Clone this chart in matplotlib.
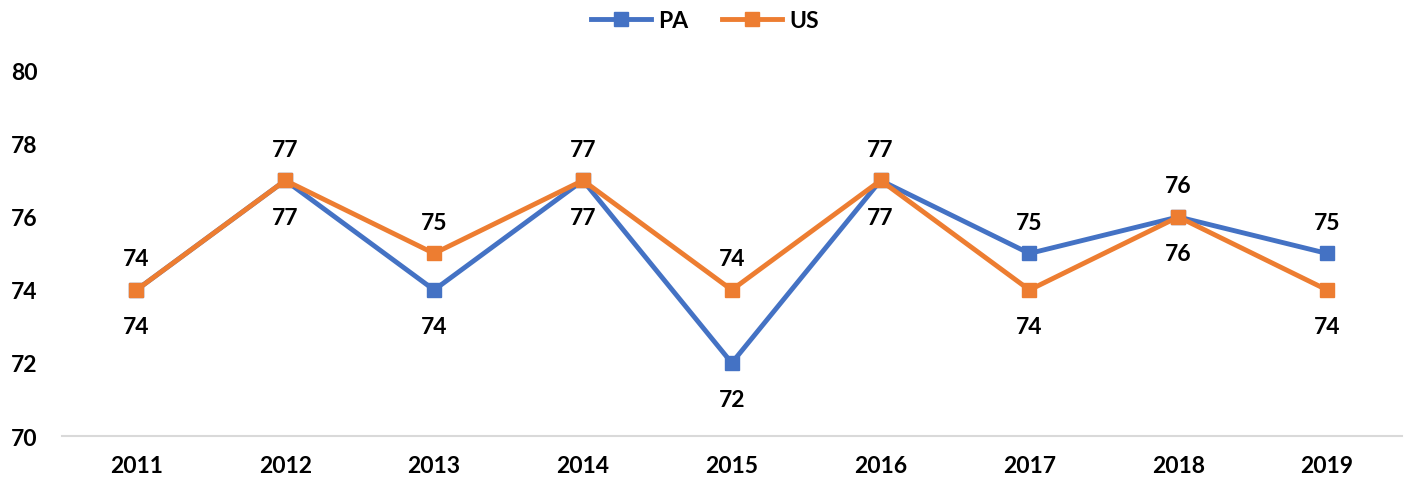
import matplotlib
matplotlib.use("Agg")
import matplotlib.pyplot as plt

years = ["2011", "2012", "2013", "2014", "2015", "2016", "2017", "2018", "2019"]
pa = [74, 77, 74, 77, 72, 77, 75, 76, 75]
us = [74, 77, 75, 77, 74, 77, 74, 76, 74]
y_ticks = [70, 72, 74, 76, 78, 80]

BLUE = "#4472C4"
ORANGE = "#ED7D31"

plt.rcParams["font.family"] = ["Lato", "DejaVu Sans"]
plt.rcParams["font.weight"] = "bold"
FS = 16.5

fig = plt.figure(figsize=(14.1, 4.89), dpi=100)
ax = fig.add_axes([0.044, 0.1063, 0.950, 0.7467])

x = list(range(len(years)))
ax.plot(x, pa, color=BLUE, lw=3.5, marker="s", ms=10, label="PA",
        solid_joinstyle="round", zorder=3)
ax.plot(x, us, color=ORANGE, lw=3.5, marker="s", ms=10, label="US",
        solid_joinstyle="round", zorder=4)

# higher value labelled above, lower below; ties put US on top
up, down = 15, -19
for i in x:
    pa_up = pa[i] > us[i]
    ax.annotate(str(pa[i]), (i, pa[i]), xytext=(0, up if pa_up else down),
                textcoords="offset points", ha="center",
                va="bottom" if pa_up else "top", fontsize=FS, fontweight="bold")
    ax.annotate(str(us[i]), (i, us[i]), xytext=(0, down if pa_up else up),
                textcoords="offset points", ha="center",
                va="top" if pa_up else "bottom", fontsize=FS, fontweight="bold")

ax.set_xlim(-0.5, len(years) - 0.5)
ax.set_ylim(70, 80)
ax.set_xticks(x)
ax.set_xticklabels(years, fontsize=FS, fontweight="bold")
ax.set_yticks(y_ticks)
ax.set_yticklabels([str(v) for v in y_ticks], fontsize=FS, fontweight="bold",
                   ha="left")
ax.tick_params(axis="y", length=0, pad=37)
ax.tick_params(axis="x", length=0, pad=14)
for side in ["top", "right", "left"]:
    ax.spines[side].set_visible(False)
ax.spines["bottom"].set_color("#D9D9D9")
ax.spines["bottom"].set_linewidth(1.5)

leg = fig.legend(loc="upper center", bbox_to_anchor=(0.5, 1.02), ncol=2,
                 frameon=False, fontsize=FS, handlelength=2.6,
                 columnspacing=1.5, handletextpad=0.3)
for t in leg.get_texts():
    t.set_fontweight("bold")

fig.savefig("out.png", dpi=100)
